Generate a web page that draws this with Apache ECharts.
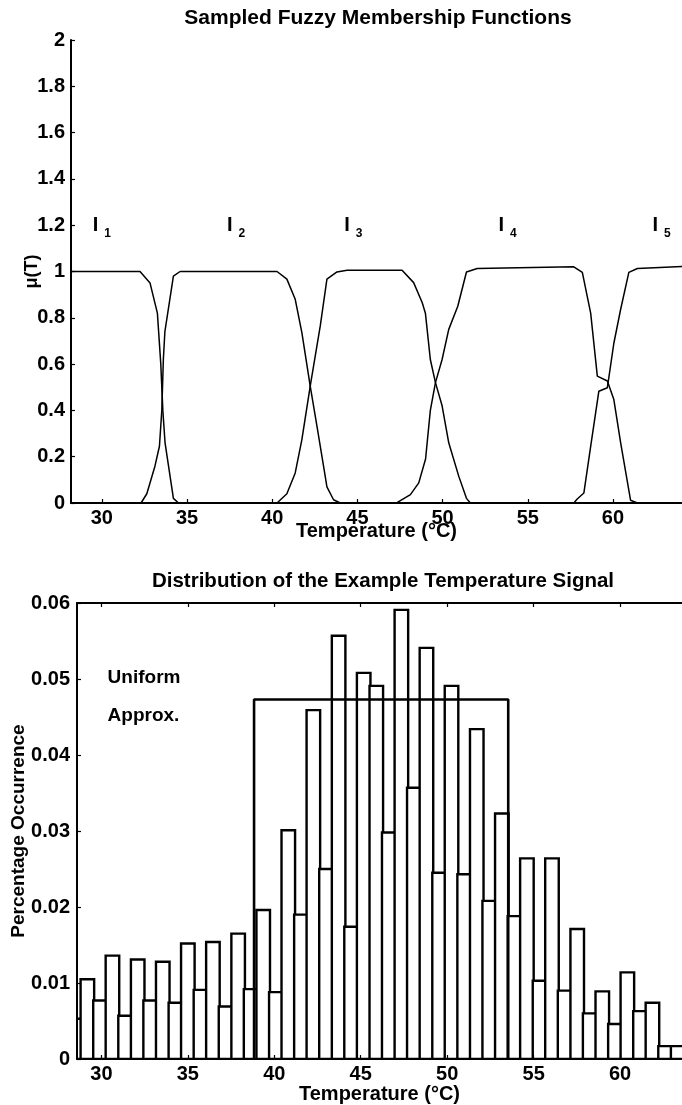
<!DOCTYPE html>
<html>
<head>
<meta charset="utf-8">
<script src="https://cdn.jsdelivr.net/npm/echarts@6/dist/echarts.min.js"></script>
<style>
  html, body { margin: 0; padding: 0; background: #fff; }
  #chart { width: 682px; height: 1105px; }
</style>
</head>
<body>
<div id="chart"></div>
<script>
// ---- Sampled fuzzy membership functions: [temperature (°C), membership] ----
const mu1 = [[28.19, 1.0], [32.24, 1.0], [32.83, 0.95], [33.26, 0.82], [33.46, 0.6], [33.58, 0.4],
  [33.71, 0.26], [34.2, 0.02], [34.5, 0], [64.05, 0]];
const mu2 = [[28.19, 0], [32.3, 0], [32.64, 0.04], [33.12, 0.16], [33.38, 0.245], [33.52, 0.4],
  [33.61, 0.62], [33.7, 0.74], [34.2, 0.98], [34.59, 1.0], [40.28, 1.0], [40.86, 0.967],
  [41.35, 0.88], [41.74, 0.736], [42.23, 0.505], [42.63, 0.33], [43.01, 0.16], [43.21, 0.07],
  [43.6, 0.014], [43.99, 0], [64.05, 0]];
const mu3 = [[28.19, 0], [40.28, 0], [40.86, 0.04], [41.35, 0.13], [41.74, 0.274], [42.23, 0.505],
  [42.82, 0.765], [43.21, 0.967], [43.8, 0.998], [44.39, 1.005], [47.62, 1.005], [48.3, 0.952],
  [48.8, 0.866], [48.99, 0.82], [49.28, 0.62], [49.58, 0.52], [49.97, 0.42], [50.36, 0.26],
  [50.95, 0.115], [51.4, 0.02], [51.63, 0], [64.05, 0]];
const mu4 = [[28.19, 0], [47.3, 0], [47.52, 0.01], [48.11, 0.036], [48.6, 0.087], [49.0, 0.19],
  [49.28, 0.40], [49.58, 0.52], [49.97, 0.62], [50.36, 0.75], [50.89, 0.85], [51.4, 0.998],
  [52.03, 1.013], [57.7, 1.02], [58.2, 0.996], [58.69, 0.82], [59.08, 0.548], [59.67, 0.527],
  [60.05, 0.447], [60.45, 0.26], [61.03, 0.012], [61.43, 0], [64.05, 0]];
const mu5 = [[28.19, 0], [57.7, 0], [57.9, 0.017], [58.29, 0.043], [58.69, 0.245], [59.17, 0.483],
  [59.67, 0.498], [60.05, 0.69], [60.45, 0.837], [60.93, 0.996], [61.43, 1.013], [64.05, 1.022]];
const memberships = [mu1, mu2, mu3, mu4, mu5];
const setIndices = ['1', '2', '3', '4', '5'];
const setLabelAnchors = [[30.0, 1.2], [37.88, 1.2], [44.76, 1.2], [53.81, 1.2], [62.85, 1.2]];

// ---- Temperature histogram ----
const binCenters = [28.47, 29.19, 29.92, 30.64, 31.37, 32.10, 32.82, 33.55, 34.28, 35.00,
  35.73, 36.45, 37.18, 37.91, 38.63, 39.36, 40.09, 40.81, 41.54, 42.26,
  42.99, 43.72, 44.44, 45.17, 45.90, 46.62, 47.35, 48.07, 48.80, 49.53,
  50.25, 50.98, 51.71, 52.43, 53.16, 53.89, 54.61, 55.34, 56.06, 56.79,
  57.52, 58.24, 58.97, 59.70, 60.42, 61.15, 61.87, 62.60, 63.33];
const occurrence = [0.0053, 0.0105, 0.0077, 0.0136, 0.0057, 0.0131, 0.0077, 0.0128, 0.0074, 0.0152,
  0.0091, 0.0154, 0.0069, 0.0165, 0.0092, 0.0196, 0.0088, 0.0301, 0.0190, 0.0459,
  0.0250, 0.0557, 0.0174, 0.0508, 0.0491, 0.0298, 0.0591, 0.0357, 0.0541, 0.0245,
  0.0491, 0.0243, 0.0434, 0.0208, 0.0323, 0.0188, 0.0264, 0.0103, 0.0264, 0.0090,
  0.0171, 0.0060, 0.0089, 0.0046, 0.0114, 0.0063, 0.0074, 0.0017, 0.0017];
const uniformSpan = [38.83, 53.53];
const uniformLevel = 0.0473;
const uniformCaption = ['Uniform', 'Approx.'];
const uniformCaptionAnchors = [[30.36, 0.0502], [30.36, 0.0452]];

const tempTicks = [30, 35, 40, 45, 50, 55, 60];

// ---- Shared styling ----
const FONT = '"Liberation Sans", Arial, Helvetica, sans-serif';
const ink = '#000';
const textStyle = { color: ink, fontFamily: FONT, fontSize: 20, fontWeight: 'bold' };

// width of one histogram bin, in °C
const binWidth = (binCenters[binCenters.length - 1] - binCenters[0]) / (binCenters.length - 1);

function tempAxis(gridIndex, min, max, extra) {
  return Object.assign({
    gridIndex, type: 'value', min, max, z: 5,
    axisLine: { show: true, onZero: false, lineStyle: { color: ink, width: 2 } },
    axisTick: { show: true, inside: true, length: 4, customValues: tempTicks, lineStyle: { color: ink, width: 1.2 } },
    axisLabel: Object.assign({ customValues: tempTicks, margin: 5 }, textStyle),
    splitLine: { show: false },
    nameMoveOverlap: false
  }, extra);
}

const chart = echarts.init(document.getElementById('chart'), null, { renderer: 'canvas' });

const series = [];

// membership curves
memberships.forEach((pts) => {
  series.push({
    type: 'line', xAxisIndex: 0, yAxisIndex: 0,
    data: pts, showSymbol: false, symbol: 'none', silent: true,
    lineStyle: { color: ink, width: 1.5 }, z: 3
  });
});

// fuzzy-set names I1..I5
series.push({
  type: 'scatter', xAxisIndex: 0, yAxisIndex: 0, symbolSize: 0, silent: true,
  itemStyle: { opacity: 1 },
  data: setLabelAnchors.map((p, i) => ({ value: p, idx: setIndices[i] })),
  label: {
    show: true, position: 'inside', opacity: 1,
    formatter: (p) => '{b|I}{s|' + p.data.idx + '}',
    rich: {
      b: { color: ink, fontFamily: FONT, fontSize: 20, fontWeight: 'bold', lineHeight: 20, verticalAlign: 'top' },
      s: { color: ink, fontFamily: FONT, fontSize: 12, fontWeight: 'bold', lineHeight: 12, verticalAlign: 'top', padding: [12, 0, 0, 6] }
    }
  }
});

// histogram bars: one outlined rectangle per bin, clipped to the plot area
series.push({
  type: 'custom', xAxisIndex: 1, yAxisIndex: 1, silent: true, clip: true,
  data: binCenters.map((c, i) => [c, occurrence[i]]),
  encode: { x: 0, y: 1 },
  renderItem: (params, api) => {
    const c = api.value(0);
    const v = api.value(1);
    const left = api.coord([c - binWidth / 2, 0]);
    const right = api.coord([c + binWidth / 2, 0]);
    const top = api.coord([c, v]);
    const w = right[0] - left[0] + 1;
    return {
      type: 'rect',
      shape: { x: left[0] - 0.5, y: top[1], width: w, height: left[1] - top[1] },
      style: { fill: '#fff', stroke: ink, lineWidth: 2.4 }
    };
  },
  z: 2
});

// uniform approximation box
series.push({
  type: 'line', xAxisIndex: 1, yAxisIndex: 1, silent: true, showSymbol: false, symbol: 'none',
  data: [[uniformSpan[0], 0], [uniformSpan[0], uniformLevel], [uniformSpan[1], uniformLevel], [uniformSpan[1], 0]],
  lineStyle: { color: ink, width: 2.6 }, z: 4
});

// caption for the uniform box
series.push({
  type: 'scatter', xAxisIndex: 1, yAxisIndex: 1, symbolSize: 0, silent: true,
  itemStyle: { opacity: 1 },
  data: uniformCaptionAnchors.map((p, i) => ({ value: p, text: uniformCaption[i] })),
  label: Object.assign({ show: true, position: 'right', distance: 0, opacity: 1, formatter: (p) => p.data.text }, textStyle, { fontSize: 19 })
});

chart.setOption({
  animation: false,
  backgroundColor: '#fff',
  title: [
    { text: 'Sampled Fuzzy Membership Functions', left: 373, top: 3, textAlign: 'center',
      textStyle: Object.assign({}, textStyle, { fontSize: 21 }) },
    { text: 'Distribution of the Example Temperature Signal', left: 378, top: 566, textAlign: 'center',
      textStyle: Object.assign({}, textStyle, { fontSize: 20.5 }) }
  ],
  grid: [
    { left: 71, right: 0, top: 40, bottom: 602, outerBoundsMode: 'none' },
    { left: 77, right: 0, top: 603, bottom: 46, outerBoundsMode: 'none' }
  ],
  xAxis: [
    tempAxis(0, 28.19, 64.05, {
      name: 'Temperature (°C)', nameLocation: 'middle', nameGap: 18, nameTextStyle: textStyle
    }),
    tempAxis(1, 28.59, 63.58, {
      position: 'bottom',
      name: 'Temperature (°C)', nameLocation: 'middle', nameGap: 25, nameTextStyle: textStyle
    }),
    tempAxis(1, 28.59, 63.58, { position: 'top', axisLabel: { show: false } })
  ],
  yAxis: [
    {
      gridIndex: 0, type: 'value', min: 0, max: 2, interval: 0.2, z: 5,
      axisLine: { show: true, lineStyle: { color: ink, width: 2 } },
      axisTick: { show: true, inside: true, length: 4, lineStyle: { color: ink, width: 1.2 } },
      axisLabel: Object.assign({ margin: 6 }, textStyle),
      splitLine: { show: false },
      name: 'μ(T)', nameLocation: 'middle', nameGap: 30, nameMoveOverlap: false,
      nameTextStyle: Object.assign({}, textStyle, { fontSize: 18 })
    },
    {
      gridIndex: 1, type: 'value', min: 0, max: 0.06, interval: 0.01, z: 5,
      axisLine: { show: true, lineStyle: { color: ink, width: 2 } },
      axisTick: { show: true, inside: true, length: 4, lineStyle: { color: ink, width: 1.2 } },
      axisLabel: Object.assign({ margin: 7 }, textStyle),
      splitLine: { show: false },
      name: 'Percentage Occurrence', nameLocation: 'middle', nameGap: 49, nameMoveOverlap: false,
      nameTextStyle: Object.assign({}, textStyle, { fontSize: 19 })
    }
  ],
  series
});
</script>
</body>
</html>
